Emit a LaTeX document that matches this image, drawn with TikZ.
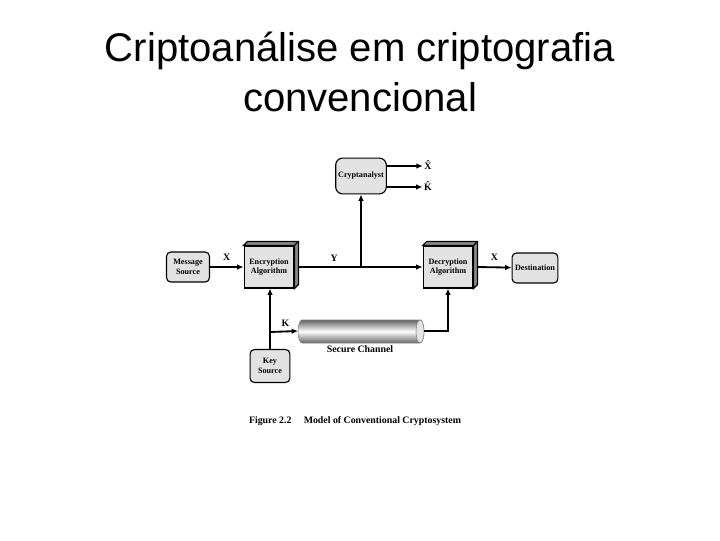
\documentclass[tikz,border=0pt]{standalone}
\usepackage{fontspec}
\setmainfont{Liberation Serif}
\newfontfamily\titlefont{Liberation Sans}
\usetikzlibrary{positioning, arrows.meta, calc}
\definecolor{boxbg}{HTML}{E2E2E2}
\definecolor{boxside}{HTML}{8A8A8A}
\definecolor{pipedark}{HTML}{646464}
\tikzset{
  round box/.style={
    draw, thick, fill=boxbg,
    rounded corners=3pt,
    align=center, inner sep=1pt,
    font=\fontsize{5.8}{6.6}\selectfont\bfseries
  },
  algo box/.style={
    draw, thick, fill=boxbg,
    minimum width=35.4pt, minimum height=29.8pt,
    align=center, inner sep=1pt,
    font=\fontsize{5.8}{6.6}\selectfont\bfseries
  },
  link/.style={-{Latex[length=4.5pt,width=4pt]}, line width=1.3pt},
  wire/.style={line width=1.3pt},
  lbl/.style={font=\fontsize{7}{8}\selectfont\bfseries, inner sep=1pt}
}

\begin{document}
\begin{tikzpicture}[x=0.025cm, y=-0.025cm]
  \useasboundingbox[fill=white] (0,0) rectangle (720,540);

  % Title
  \node[font=\titlefont\fontsize{28.5}{35.4}\selectfont, align=center] (title) at (360,72)
    {Criptoanálise em criptografia\\convencional};

  % Blocks
  \node[round box, minimum width=30.5pt, minimum height=21.3pt] (msgsrc) at (188,267) {Message\\Source};
  \node[algo box] (enc) at (269,267) {Encryption\\Algorithm};
  \node[algo box] (dec) at (448,267) {Decryption\\Algorithm};
  \node[round box, minimum width=32.6pt, minimum height=21.3pt] (dest) at (535,268) {Destination};
  \node[round box, minimum width=36pt, minimum height=25.5pt, rounded corners=5pt] (crypt) at (361,176) {Cryptanalyst};
  \node[round box, minimum width=28.3pt, minimum height=23.4pt] (keysrc) at (270,366) {Key\\Source};

  % 3D faces of the algorithm boxes
  \foreach \b in {enc,dec} {
    \filldraw[fill=boxside, thick] (\b.north west) -- ++(4,-4) -| ($(\b.south east)+(4,-4)$) -- (\b.south east) -- (\b.north east) -- cycle;
    \draw[thick] (\b.north east) -- ++(4,-4);
  }

  % Secure channel
  \coordinate (chin) at (298,331);
  \coordinate (chout) at (424,331);
  \shade[top color=pipedark, bottom color=pipedark, middle color=white, draw=gray]
    (302,320) -- (420,320) arc(-90:90:4 and 11.5) -- (302,343) arc(90:270:4 and 11.5) -- cycle;
  \draw[fill=gray!20, draw=gray] (420,331.5) ellipse (4 and 11.5);
  \node[lbl] (chlabel) at (360,349) {Secure Channel};

  % Outputs of the cryptanalyst
  \node[lbl] (xhat) at (428,165) {\^{X}};
  \node[lbl] (khat) at (428,186) {\^{K}};
  \draw[link] (crypt.east |- 0,166) -- (xhat.west |- 0,166);
  \draw[link] (crypt.east |- 0,187) -- (khat.west |- 0,187);

  % Main path
  \coordinate (yjoin) at (361,267);
  \draw[link] (msgsrc) -- node[lbl, above=3pt]{X} (enc);
  \draw[wire] ($(enc.east)+(4,0)$) -- node[lbl, above=2pt, pos=0.57]{Y} (yjoin);
  \draw[link] (yjoin) -- (dec.west);
  \draw[link] (yjoin) -- (crypt.south);
  \draw[link] ($(dec.east)+(4,0)$) -- node[lbl, above=3pt]{X} (dest);

  % Key distribution
  \coordinate (kjoin) at (270,332);
  \draw[link] (keysrc.north) -- (enc.south -| keysrc.north);
  \draw[link] (kjoin) -- node[lbl, above=2pt, pos=0.55]{K} (chin);
  \draw[link] (chout) -| (dec.south);

  % Caption
  \node[font=\fontsize{7}{8}\selectfont\bfseries] (caption) at (355,421)
    {Figure 2.2\quad\ Model of Conventional Cryptosystem};
\end{tikzpicture}
\end{document}
